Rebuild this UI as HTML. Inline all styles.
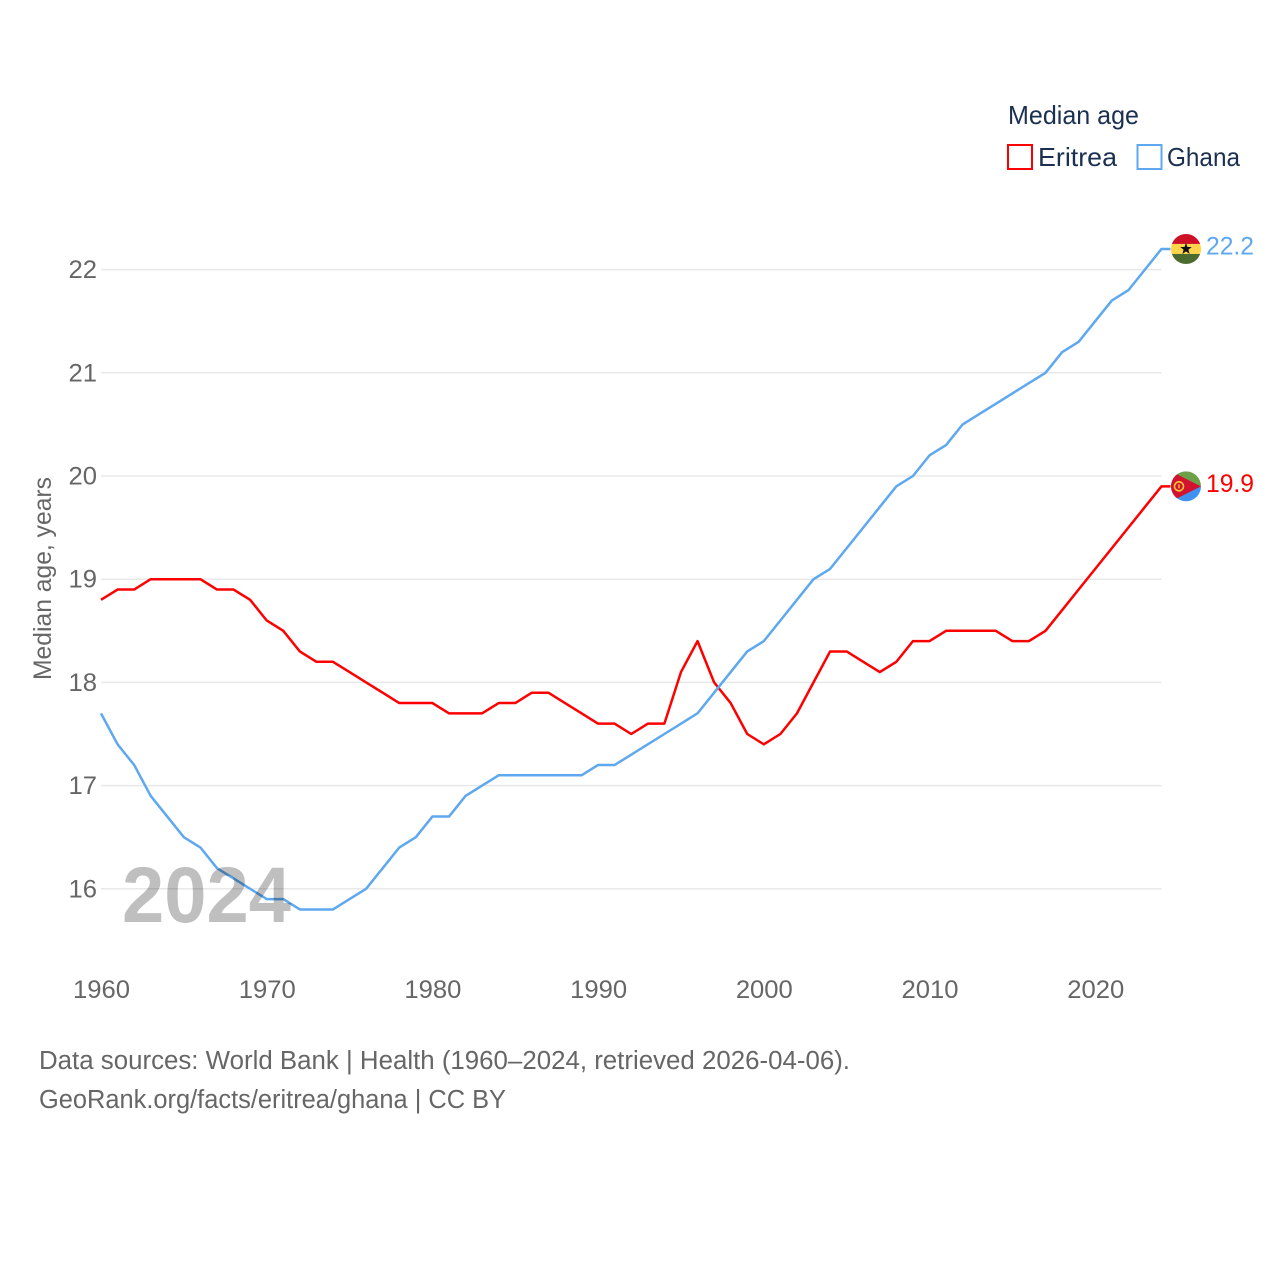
<!DOCTYPE html>
<html lang="en">
<head>
<meta charset="utf-8">
<title>Median age: Eritrea and Ghana</title>
<style>
html,body{margin:0;padding:0;background:#fff;}
svg{display:block;}
text{font-family:"Liberation Sans",sans-serif;}
</style>
</head>
<body>
<svg id="chart" width="1280" height="1280" viewBox="0 0 1280 1280" xmlns="http://www.w3.org/2000/svg">
  <defs>
    <clipPath id="flag-clip-ghana"><circle cx="0" cy="0" r="15"/></clipPath>
    <clipPath id="flag-clip-eritrea"><circle cx="0" cy="0" r="15"/></clipPath>
  </defs>
  <g id="grid"></g>
  <g id="yticks"></g>
  <g id="xticks"></g>
  <g id="lines"></g>
  <text x="122" y="922" font-size="79" font-weight="700" fill="#000" fill-opacity="0.25" textLength="169" lengthAdjust="spacingAndGlyphs">2024</text>
  <text transform="translate(51,680) rotate(-90)" font-size="25" fill="#666" textLength="203" lengthAdjust="spacingAndGlyphs">Median age, years</text>

  <g>
    <text x="1008" y="124" font-size="26" fill="#1b3050" textLength="131" lengthAdjust="spacingAndGlyphs">Median age</text>
    <rect x="1008" y="145" width="24" height="24" fill="none" stroke="#ff0000" stroke-width="2"/>
    <text x="1038" y="166" font-size="26" fill="#1b3050" textLength="79" lengthAdjust="spacingAndGlyphs">Eritrea</text>
    <rect x="1137.5" y="145" width="24" height="24" fill="none" stroke="#5ea8f0" stroke-width="2"/>
    <text x="1167" y="166" font-size="26" fill="#1b3050" textLength="73" lengthAdjust="spacingAndGlyphs">Ghana</text>
  </g>

  <g id="flag-ghana" clip-path="url(#flag-clip-ghana)">
    <rect x="-15" y="-15" width="30" height="10" fill="#ce1126"/>
    <rect x="-15" y="-5" width="30" height="10" fill="#fcd54a"/>
    <rect x="-15" y="5" width="30" height="10" fill="#4c6b2f"/>
    <polygon points="0,-6 1.5,-1.9 5.8,-1.9 2.4,0.7 3.6,5 0,2.4 -3.6,5 -2.4,0.7 -5.8,-1.9 -1.5,-1.9" fill="#111"/>
  </g>
  <g id="flag-eritrea" clip-path="url(#flag-clip-eritrea)">
    <rect x="-15" y="-15" width="30" height="15" fill="#6ea04a"/>
    <rect x="-15" y="0" width="30" height="15" fill="#3f92f2"/>
    <polygon points="-15,-15 15,0 -15,15" fill="#d2122e"/>
    <circle cx="-7" cy="0" r="4.5" fill="none" stroke="#f5c83c" stroke-width="1.6"/>
    <rect x="-7.7" y="-2" width="1.4" height="4" fill="#f5c83c"/>
  </g>
  <g id="endlabels"></g>

  <g>
    <text x="39" y="1069" font-size="25.5" fill="#666" textLength="811" lengthAdjust="spacingAndGlyphs">Data sources: World Bank | Health (1960–2024, retrieved 2026-04-06).</text>
    <text x="39" y="1108" font-size="25.5" fill="#666" textLength="467" lengthAdjust="spacingAndGlyphs">GeoRank.org/facts/eritrea/ghana | CC BY</text>
  </g>
</svg>
<script>
const years = [1960,1961,1962,1963,1964,1965,1966,1967,1968,1969,1970,1971,1972,1973,1974,1975,1976,1977,1978,1979,1980,1981,1982,1983,1984,1985,1986,1987,1988,1989,1990,1991,1992,1993,1994,1995,1996,1997,1998,1999,2000,2001,2002,2003,2004,2005,2006,2007,2008,2009,2010,2011,2012,2013,2014,2015,2016,2017,2018,2019,2020,2021,2022,2023,2024];
const eritreaValues = [18.8,18.9,18.9,19.0,19.0,19.0,19.0,18.9,18.9,18.8,18.6,18.5,18.3,18.2,18.2,18.1,18.0,17.9,17.8,17.8,17.8,17.7,17.7,17.7,17.8,17.8,17.9,17.9,17.8,17.7,17.6,17.6,17.5,17.6,17.6,18.1,18.4,18.0,17.8,17.5,17.4,17.5,17.7,18.0,18.3,18.3,18.2,18.1,18.2,18.4,18.4,18.5,18.5,18.5,18.5,18.4,18.4,18.5,18.7,18.9,19.1,19.3,19.5,19.7,19.9];
const ghanaValues = [17.7,17.4,17.2,16.9,16.7,16.5,16.4,16.2,16.1,16.0,15.9,15.9,15.8,15.8,15.8,15.9,16.0,16.2,16.4,16.5,16.7,16.7,16.9,17.0,17.1,17.1,17.1,17.1,17.1,17.1,17.2,17.2,17.3,17.4,17.5,17.6,17.7,17.9,18.1,18.3,18.4,18.6,18.8,19.0,19.1,19.3,19.5,19.7,19.9,20.0,20.2,20.3,20.5,20.6,20.7,20.8,20.9,21.0,21.2,21.3,21.5,21.7,21.8,22.0,22.2];
const yTickLabels = [16,17,18,19,20,21,22];
const xTickLabels = [1960,1970,1980,1990,2000,2010,2020];

const SVG_NS = 'http://www.w3.org/2000/svg';
const PLOT_LEFT = 101, PLOT_RIGHT = 1161.5;
function xScale(year){
  return PLOT_LEFT + (year - 1960) * (PLOT_RIGHT - PLOT_LEFT) / (2024 - 1960);
}
function yScale(value){
  return 888.8 - (value - 16) * 103.2;
}
function make(tag, attrs, text){
  const el = document.createElementNS(SVG_NS, tag);
  for (const k in attrs) el.setAttribute(k, attrs[k]);
  if (text !== undefined) el.textContent = text;
  return el;
}

const gridGroup = document.getElementById('grid');
const yGroup = document.getElementById('yticks');
yTickLabels.forEach(function(v){
  const line = make('line', {x1: PLOT_LEFT, x2: PLOT_RIGHT, y1: yScale(v), y2: yScale(v), stroke: '#e8e8e8', 'stroke-width': 1.5});
  
  
  gridGroup.appendChild(line);
  const label = make('text', {x: 97, y: yScale(v) + 8.5, 'text-anchor': 'end', 'font-size': 25, fill: '#666', textLength: 28.5, lengthAdjust: 'spacingAndGlyphs'}, String(v));
  
  
  yGroup.appendChild(label);
});

const xGroup = document.getElementById('xticks');
xTickLabels.forEach(function(yr){
  const label = make('text', {x: xScale(yr) + 0.5, y: 998, 'text-anchor': 'middle', 'font-size': 25, fill: '#666', textLength: 57, lengthAdjust: 'spacingAndGlyphs'}, String(yr));
  
  
  xGroup.appendChild(label);
});

function pathFor(values){
  let d = '';
  values.forEach(function(v, i){
    d += (i ? 'L' : 'M') + xScale(years[i]).toFixed(2) + ' ' + yScale(v).toFixed(2);
  });
  return d + 'H' + (PLOT_RIGHT + 9);
}
const lineGroup = document.getElementById('lines');
const eritreaLine = make('path', {d: pathFor(eritreaValues), fill: 'none', stroke: '#ff0000', 'stroke-width': 2.5, 'stroke-linejoin': 'round'});


lineGroup.appendChild(eritreaLine);
const ghanaLine = make('path', {d: pathFor(ghanaValues), fill: 'none', stroke: '#5ea8f0', 'stroke-width': 2.5, 'stroke-linejoin': 'round'});


lineGroup.appendChild(ghanaLine);

const labelGroup = document.getElementById('endlabels');
const lastEritrea = eritreaValues[eritreaValues.length - 1];
const lastGhana = ghanaValues[ghanaValues.length - 1];
document.getElementById('flag-eritrea').setAttribute('transform', 'translate(1186,' + yScale(lastEritrea).toFixed(2) + ')');
document.getElementById('flag-ghana').setAttribute('transform', 'translate(1186,' + yScale(lastGhana).toFixed(2) + ')');
const eritreaEnd = make('text', {x: 1206, y: yScale(lastEritrea) + 5.5, 'font-size': 25, fill: '#ff0000', textLength: 48, lengthAdjust: 'spacingAndGlyphs'}, lastEritrea.toFixed(1));


labelGroup.appendChild(eritreaEnd);
const ghanaEnd = make('text', {x: 1206, y: yScale(lastGhana) + 5.5, 'font-size': 25, fill: '#5ea8f0', textLength: 48, lengthAdjust: 'spacingAndGlyphs'}, lastGhana.toFixed(1));


labelGroup.appendChild(ghanaEnd);
</script>
</body>
</html>
